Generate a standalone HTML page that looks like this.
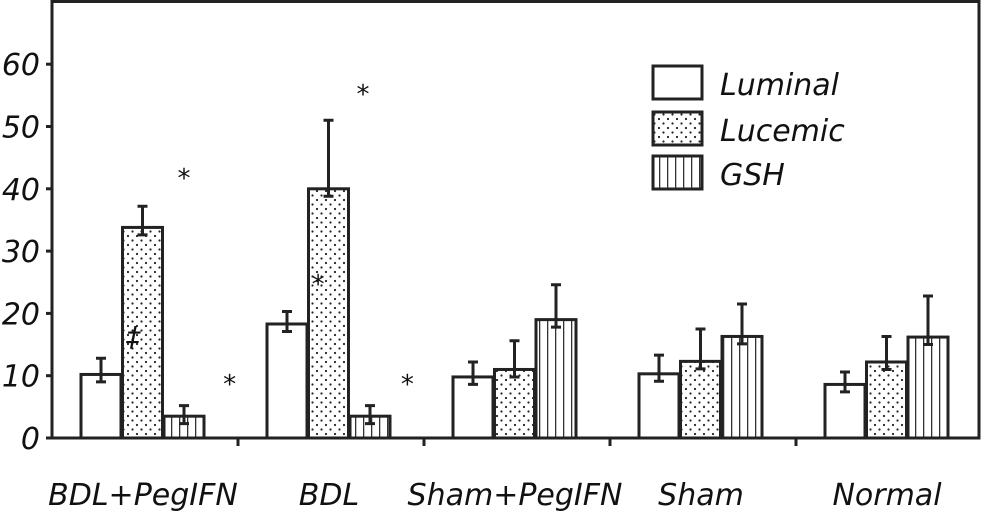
<!DOCTYPE html>
<html><head><meta charset="utf-8"><style>
body{margin:0;background:#fff}
svg text{font-family:"DejaVu Sans","Liberation Sans",sans-serif;font-style:italic;fill:#111}
</style></head><body>
<svg id="c" width="984" height="512" viewBox="0 0 984 512">
<defs>
<pattern id="dots" width="9" height="9" patternUnits="userSpaceOnUse"><rect width="9" height="9" fill="#fff"/><circle cx="2" cy="2" r="1.1" fill="#222"/><circle cx="6.5" cy="6.5" r="1.1" fill="#222"/></pattern>
<pattern id="vlines" width="8" height="8" patternUnits="userSpaceOnUse"><rect width="8" height="8" fill="#fff"/><rect x="3" width="1.3" height="8" fill="#333"/></pattern>
</defs>
<g id="plot"></g>
</svg>
<script>
const categories=["BDL+PegIFN","BDL","Sham+PegIFN","Sham","Normal"];
const seriesNames=["Luminal","Lucemic","GSH"];
const luminal=[10.2,18.3,9.8,10.3,8.6];
const lucemic=[33.8,40,11,12.3,12.2];
const gsh=[3.5,3.5,19,16.3,16.2];
const luminalErr=[2.6,2.0,2.4,3.0,2.0];
const lucemicErr=[3.4,11,4.6,5.2,4.1];
const gshErr=[1.7,1.7,5.6,5.2,6.6];
const yTicks=[0,10,20,30,40,50,60];
const stars=[[0,2,42.5],[0,3.1,9.5],[1,1.83,56],[1,0.75,25.5],[1,2.9,9.5]];

const NS="http://www.w3.org/2000/svg";
const g=document.getElementById('plot');
const x0=52,y0=438,catW=186,barW=40;
const y=v=>y0-v*6.23;
const xc=(i,s)=>x0+i*catW+29+s*41.5;
function el(t,a,p){const e=document.createElementNS(NS,t);for(const k in a)e.setAttribute(k,a[k]);(p||g).appendChild(e);return e;}
let f=el('rect',{x:x0,y:1.5,width:927,height:y0-1.5,fill:'none',stroke:'#222','stroke-width':3});


yTicks.forEach(v=>{
 let l=el('line',{x1:x0-6,x2:x0,y1:y(v),y2:y(v),stroke:'#222','stroke-width':3});
 
 
 let t=el('text',{x:40,y:y(v)+11,'text-anchor':'end','font-size':30});
 t.textContent=v;
 
 
});
categories.forEach((c,i)=>{
 if(i>0){let l=el('line',{x1:x0+i*catW,x2:x0+i*catW,y1:y0,y2:y0+8,stroke:'#222','stroke-width':3});
 
 }
 let t=el('text',{x:x0+i*catW+catW/2-2,y:505,'text-anchor':'middle','font-size':30});
 t.textContent=c;
 
 
});
const vals=[luminal,lucemic,gsh],errs=[luminalErr,lucemicErr,gshErr],fills=['#fff','url(#dots)','url(#vlines)'];
categories.forEach((c,i)=>{
 for(let s=0;s<3;s++){
  const v=vals[s][i],e=errs[s][i],x=xc(i,s);
  let r=el('rect',{x:x,y:y(v),width:barW,height:y0-y(v),fill:fills[s],stroke:'#222','stroke-width':3});
  
  
  const cx=x+barW/2,lo=y(v-1.2),hi=y(v+e);
  let eb=el('path',{d:`M${cx},${lo}V${hi}M${cx-5},${hi}H${cx+5}M${cx-5},${lo}H${cx+5}`,stroke:'#222','stroke-width':3,fill:'none'});
  
  
 }
});
stars.forEach(s=>{
 let t=el('text',{x:xc(s[0],s[1])+20,y:y(s[2])+14,'text-anchor':'middle','font-size':26,'font-style':'normal'});
 t.textContent='*';
 
 
});
let dg=el('text',{x:xc(0,1)+4,y:y(17)+14,'font-size':28,'font-style':'normal'});
dg.textContent='‡';


seriesNames.forEach((n,s)=>{
 const ly=[66,112,156][s];
 let r=el('rect',{x:653,y:ly,width:49,height:33,fill:fills[s],stroke:'#222','stroke-width':3});
 
 
 let t=el('text',{x:720,y:ly+29,'font-size':30});
 t.textContent=n;
 
 
});
</script>
</body></html>
